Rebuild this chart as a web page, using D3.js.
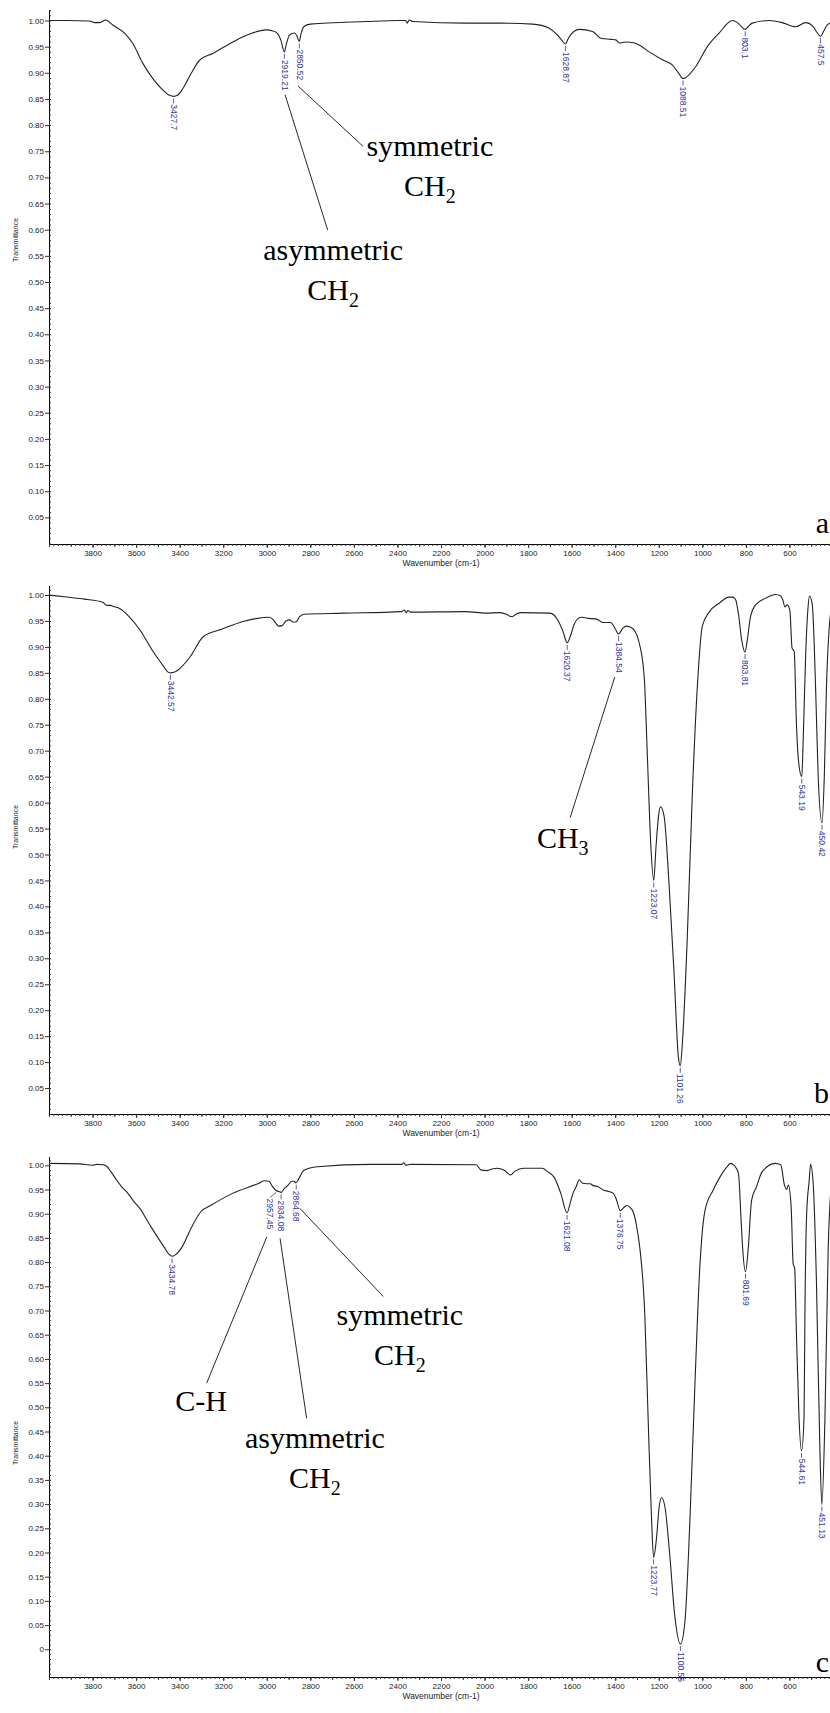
<!DOCTYPE html>
<html>
<head>
<meta charset="utf-8">
<script src="https://cdn.jsdelivr.net/npm/d3@7"></script>
<style>
  body { margin: 0; background: #fff; }
  svg { display: block; }
</style>
</head>
<body>
<svg id="chart" width="830" height="1713"></svg>
<script>
// ---- FTIR spectra: [wavenumber (cm-1), transmittance] ----
const spectrumA = [
  [4000,1.000],[3920,1.000],[3813,0.999],[3790,0.996],[3767,0.996],[3740,1.001],[3706,0.991],[3653,0.976],
  [3615,0.956],[3569,0.918],[3523,0.889],[3477,0.867],[3446,0.857],[3427.7,0.855],[3410,0.857],[3385,0.870],
  [3347,0.899],[3309,0.924],[3248,0.937],[3156,0.959],[3079,0.974],[3003,0.982],[2972,0.980],[2950,0.975],
  [2935,0.962],[2919.21,0.940],[2910,0.955],[2896,0.972],[2873,0.976],[2862,0.971],[2850.52,0.960],[2843,0.974],
  [2830,0.988],[2800,0.993],[2544,0.998],[2391,1.000],[2362,1.000],[2355,0.995],[2346,1.001],[2330,0.998],
  [2085,0.995],[1933,0.995],[1779,0.993],[1703,0.985],[1665,0.972],[1645,0.962],[1628.87,0.955],[1615,0.966],
  [1590,0.979],[1565,0.983],[1504,0.979],[1466,0.966],[1420,0.964],[1397,0.963],[1382,0.957],[1350,0.959],
  [1321,0.958],[1290,0.953],[1244,0.940],[1183,0.925],[1138,0.915],[1110,0.900],[1088.51,0.889],[1076,0.891],
  [1030,0.912],[977,0.950],[923,0.976],[862,1.000],[839,0.996],[815,0.986],[803.1,0.983],[790,0.988],
  [771,0.995],[694,1.000],[633,0.996],[572,0.988],[526,0.996],[490,0.988],[475,0.978],[457.5,0.970],
  [440,0.982],[427,0.991],[400,0.997]
];
const spectrumB = [
  [4000,1.000],[3920,0.996],[3838,0.992],[3753,0.986],[3735,0.980],[3718,0.980],[3704,0.978],[3680,0.975],
  [3631,0.958],[3583,0.933],[3522,0.891],[3473,0.862],[3455,0.852],[3442.57,0.850],[3420,0.852],[3400,0.858],
  [3352,0.881],[3291,0.920],[3207,0.934],[3109,0.949],[3040,0.955],[2988,0.957],[2970,0.952],[2959,0.946],
  [2945,0.940],[2930,0.941],[2912,0.950],[2896,0.952],[2880,0.948],[2866,0.948],[2850,0.958],[2830,0.963],
  [2648,0.965],[2381,0.968],[2368,0.971],[2360,0.966],[2352,0.970],[2340,0.967],[2089,0.968],[1992,0.965],
  [1931,0.966],[1900,0.963],[1876,0.958],[1855,0.963],[1834,0.966],[1700,0.965],[1664,0.952],[1640,0.930],
  [1620.37,0.908],[1605,0.922],[1589,0.943],[1570,0.955],[1555,0.957],[1520,0.955],[1482,0.953],[1458,0.947],
  [1421,0.947],[1400,0.935],[1384.54,0.925],[1365,0.936],[1349,0.940],[1330,0.938],[1312,0.932],[1290,0.908],
  [1267,0.843],[1252,0.685],[1236,0.513],[1223.07,0.450],[1213,0.513],[1201,0.575],[1192,0.592],[1176,0.575],
  [1153,0.444],[1130,0.272],[1110,0.110],[1101.26,0.093],[1092,0.134],[1069,0.341],[1046,0.616],[1023,0.823],
  [1000,0.940],[969,0.967],[923,0.984],[878,0.996],[860,0.996],[847,0.991],[833,0.960],[820,0.915],
  [803.81,0.890],[794,0.912],[778,0.960],[755,0.981],[709,0.994],[663,1.001],[640,0.998],[630,0.990],
  [621,0.977],[610,0.981],[598,0.970],[588,0.898],[578,0.891],[568,0.753],[556,0.671],[543.19,0.650],
  [537,0.719],[525,0.891],[515,0.974],[508,0.998],[495,0.981],[480,0.823],[468,0.650],[450.42,0.561],
  [440,0.650],[430,0.823],[418,0.933],[400,0.990]
];
const spectrumC = [
  [4000,1.004],[3861,1.003],[3800,1.000],[3780,1.002],[3752,1.001],[3735,0.998],[3716,0.987],[3690,0.970],
  [3667,0.956],[3643,0.945],[3610,0.925],[3581,0.910],[3552,0.888],[3522,0.866],[3473,0.832],[3449,0.816],
  [3434.78,0.812],[3420,0.815],[3388,0.832],[3352,0.866],[3303,0.904],[3254,0.918],[3157,0.942],[3036,0.963],
  [3011,0.968],[2990,0.967],[2975,0.957],[2957.45,0.948],[2945,0.946],[2934.08,0.944],[2920,0.952],[2902,0.959],
  [2885,0.967],[2875,0.967],[2864.68,0.964],[2850,0.975],[2829,0.990],[2768,0.997],[2525,1.002],[2380,1.002],
  [2370,1.005],[2362,1.000],[2340,1.002],[2039,1.001],[2015,0.990],[1990,0.989],[1960,0.993],[1942,0.994],
  [1910,0.990],[1881,0.980],[1860,0.988],[1820,0.994],[1735,0.994],[1711,0.987],[1680,0.975],[1650,0.942],
  [1621.08,0.902],[1605,0.925],[1594,0.942],[1580,0.955],[1565,0.970],[1550,0.963],[1531,0.962],[1515,0.962],
  [1501,0.958],[1480,0.956],[1455,0.949],[1430,0.946],[1409,0.942],[1395,0.930],[1376.75,0.906],[1360,0.913],
  [1346,0.917],[1330,0.912],[1317,0.903],[1300,0.870],[1287,0.829],[1264,0.689],[1249,0.478],[1233,0.267],
  [1223.77,0.190],[1210,0.232],[1198,0.295],[1187,0.313],[1172,0.295],[1150,0.197],[1127,0.071],[1100.55,0.011],
  [1080,0.057],[1057,0.267],[1034,0.548],[1011,0.794],[988,0.906],[950,0.949],[920,0.975],[890,0.995],
  [871,1.004],[850,0.998],[834,0.983],[822,0.887],[815,0.829],[801.69,0.780],[789,0.829],[774,0.927],
  [751,0.956],[725,0.987],[665,1.004],[640,1.001],[623,0.959],[613,0.950],[605,0.959],[592,0.913],
  [583,0.797],[576,0.787],[568,0.654],[556,0.478],[544.61,0.410],[533,0.478],[529,0.689],[521,0.899],
  [509,0.970],[503,1.002],[491,0.963],[476,0.759],[460,0.408],[451.13,0.299],[437,0.478],[422,0.829],
  [410,0.950],[400,0.990]
];

// ---- labelled band positions (cm-1) ----
const peaksA = [3427.7, 2919.21, 2850.52, 1628.87, 1088.51, 803.1, 457.5];
const peaksB = [3442.57, 1620.37, 1384.54, 1223.07, 1101.26, 803.81, 543.19, 450.42];
const peaksC = [3434.78, 2957.45, 2934.08, 2864.68, 1621.08, 1376.75, 1223.77, 1100.55, 801.69, 544.61, 451.13];

// ---- axis tick labels ----
const xTicks = [3800, 3600, 3400, 3200, 3000, 2800, 2600, 2400, 2200, 2000, 1800, 1600, 1400, 1200, 1000, 800, 600];
const yTicksAB = [0.05, 0.10, 0.15, 0.20, 0.25, 0.30, 0.35, 0.40, 0.45, 0.50, 0.55, 0.60, 0.65, 0.70, 0.75, 0.80, 0.85, 0.90, 0.95, 1.00];
const yTicksC = [0, 0.05, 0.10, 0.15, 0.20, 0.25, 0.30, 0.35, 0.40, 0.45, 0.50, 0.55, 0.60, 0.65, 0.70, 0.75, 0.80, 0.85, 0.90, 0.95, 1.00];

// ---- band assignments (text lines; second item of a line is a subscript) ----
const notesA = [
  { lines: [["symmetric"], ["CH", "2"]], at: [2251, 0.740], from: [2857, 0.875], to: [2557, 0.759] },
  { lines: [["asymmetric"], ["CH", "2"]], at: [2695, 0.542], from: [2916, 0.858], to: [2720, 0.599] }
];
const notesB = [
  { lines: [["CH", "3"]], at: [1641, 0.513], from: [1402, 0.842], to: [1607, 0.571] }
];
const notesC = [
  { lines: [["C-H"]], at: [3302, 0.493], from: [3000, 0.852], to: [3276, 0.550] },
  { lines: [["asymmetric"], ["CH", "2"]], at: [2779, 0.415], from: [2939, 0.849], to: [2817, 0.477] },
  { lines: [["symmetric"], ["CH", "2"]], at: [2389, 0.670], from: [2848, 0.911], to: [2465, 0.729] }
];

// ---- layout ----
const svg = d3.select("#chart");
const x = d3.scaleLinear().domain([4000, 400]).range([49, 833]);
const sansFont = '"Liberation Sans", Arial, sans-serif';
const serifFont = '"Liberation Serif", "Times New Roman", serif';
const peakColor = "#34349a";
const lineColor = "#222";

const panels = [
  { letter: "a", spectrum: spectrumA, peaks: peaksA, notes: notesA, yTicks: yTicksAB,
    y0: 543.5, y1: 20.5, axisTop: 10, axisBottom: 544, letterY: 533, titleY: 240 },
  { letter: "b", spectrum: spectrumB, peaks: peaksB, notes: notesB, yTicks: yTicksAB,
    y0: 1114, y1: 595, axisTop: 586, axisBottom: 1114, letterY: 1103, titleY: 827 },
  { letter: "c", spectrum: spectrumC, peaks: peaksC, notes: notesC, yTicks: yTicksC,
    y0: 1649.3, y1: 1165.3, axisTop: 1157, axisBottom: 1677, letterY: 1672, titleY: 1443 }
];

// label shifted sideways where neighbouring bands crowd each other
const peakNudge = { 2957.45: -6 };

const fmtY = v => v === 0 ? "0" : d3.format(".2f")(v);

panels.forEach(p => {
  const y = d3.scaleLinear().domain([0, 1]).range([p.y0, p.y1]);
  const g = svg.append("g");
  const x0 = x(4000);

  // axis lines
  g.append("line").attr("x1", x0).attr("x2", x0).attr("y1", p.axisTop).attr("y2", p.axisBottom)
    .attr("stroke", "#000").attr("stroke-width", 1).attr("shape-rendering", "crispEdges");
  g.append("line").attr("x1", x0).attr("x2", 830).attr("y1", p.axisBottom).attr("y2", p.axisBottom)
    .attr("stroke", "#000").attr("stroke-width", 1).attr("shape-rendering", "crispEdges");

  // y axis: minor ticks every 0.01 inside, labelled ticks outside
  const yMin = y.invert(p.axisBottom), yMax = y.invert(p.axisTop);
  const yMinor = d3.range(Math.ceil(yMin * 100), Math.floor(yMax * 100) + 1).map(v => v / 100);
  const yMinorAxis = d3.axisRight(y).tickValues(yMinor).tickSize(2).tickFormat("");
  g.append("g").attr("transform", `translate(${x0},0)`).call(yMinorAxis)
    .call(s => s.select(".domain").remove())
    .call(s => s.selectAll("line").attr("stroke", "#333"));
  const yAxis = d3.axisLeft(y).tickValues(p.yTicks).tickSize(4).tickPadding(1).tickFormat(fmtY);
  g.append("g").attr("transform", `translate(${x0},0)`).call(yAxis)
    .call(s => s.select(".domain").remove())
    .call(s => s.selectAll("line").attr("stroke", "#333"))
    .call(s => s.selectAll("text").style("font-family", sansFont).style("font-size", "8px").attr("fill", "#222"));

  // x axis: minor ticks every 20 cm-1, labelled every 200 cm-1
  const xMinorAxis = d3.axisBottom(x).tickValues(d3.range(400, 4001, 20)).tickSize(2).tickFormat("");
  g.append("g").attr("transform", `translate(0,${p.axisBottom})`).call(xMinorAxis)
    .call(s => s.select(".domain").remove())
    .call(s => s.selectAll("line").attr("stroke", "#333"));
  const xMidAxis = d3.axisBottom(x).tickValues(d3.range(500, 4001, 100)).tickSize(3).tickFormat("");
  g.append("g").attr("transform", `translate(0,${p.axisBottom})`).call(xMidAxis)
    .call(s => s.select(".domain").remove())
    .call(s => s.selectAll("line").attr("stroke", "#333"));
  const xAxis = d3.axisBottom(x).tickValues(xTicks).tickSize(4).tickPadding(2).tickFormat(d3.format("d"));
  g.append("g").attr("transform", `translate(0,${p.axisBottom})`).call(xAxis)
    .call(s => s.select(".domain").remove())
    .call(s => s.selectAll("line").attr("stroke", "#333"))
    .call(s => s.selectAll("text").style("font-family", sansFont).style("font-size", "8px").attr("fill", "#222"));

  // axis titles
  g.append("text").attr("x", 441).attr("y", p.axisBottom + 22).attr("text-anchor", "middle")
    .style("font-family", sansFont).style("font-size", "8.5px").attr("fill", "#222")
    .text("Wavenumber (cm-1)");
  g.append("text").attr("transform", `translate(17.5,${p.titleY}) rotate(-90)`).attr("text-anchor", "middle")
    .style("font-family", sansFont).style("font-size", "7px").attr("fill", "#222")
    .text("Transmittance");

  // spectrum trace
  const line = d3.line().x(d => x(d[0])).y(d => y(d[1])).curve(d3.curveMonotoneX);
  g.append("path").datum(p.spectrum).attr("d", line)
    .attr("fill", "none").attr("stroke", lineColor).attr("stroke-width", 1.1);

  // band labels hanging under each minimum
  p.peaks.forEach(w => {
    const pt = p.spectrum.find(d => d[0] === w);
    const px = x(w), py = y(pt[1]);
    const dx = peakNudge[w] || 0;
    g.append("line").attr("x1", px).attr("y1", py + 2).attr("x2", px + dx).attr("y2", py + 7)
      .attr("stroke", peakColor).attr("stroke-width", 0.8);
    g.append("text").attr("transform", `translate(${px + dx},${py + 8}) rotate(90)`)
      .attr("dy", "0.33em")
      .style("font-family", sansFont).style("font-size", "8.5px").attr("fill", peakColor)
      .text(String(w));
  });

  // band assignments with leader lines
  p.notes.forEach(n => {
    g.append("line")
      .attr("x1", x(n.from[0])).attr("y1", y(n.from[1]))
      .attr("x2", x(n.to[0])).attr("y2", y(n.to[1]))
      .attr("stroke", "#111").attr("stroke-width", 0.9);
    n.lines.forEach((ln, i) => {
      const t = g.append("text").attr("x", x(n.at[0])).attr("y", y(n.at[1]) + i * 40)
        .attr("text-anchor", "middle")
        .style("font-family", serifFont).style("font-size", "30px").attr("fill", "#000");
      t.append("tspan").text(ln[0]);
      if (ln[1]) t.append("tspan").attr("dy", 7).style("font-size", "20px").text(ln[1]);
    });
  });

  // panel letter
  g.append("text").attr("x", 829).attr("y", p.letterY).attr("text-anchor", "end")
    .style("font-family", serifFont).style("font-size", "30px").attr("fill", "#000")
    .text(p.letter);
});
</script>
</body>
</html>
